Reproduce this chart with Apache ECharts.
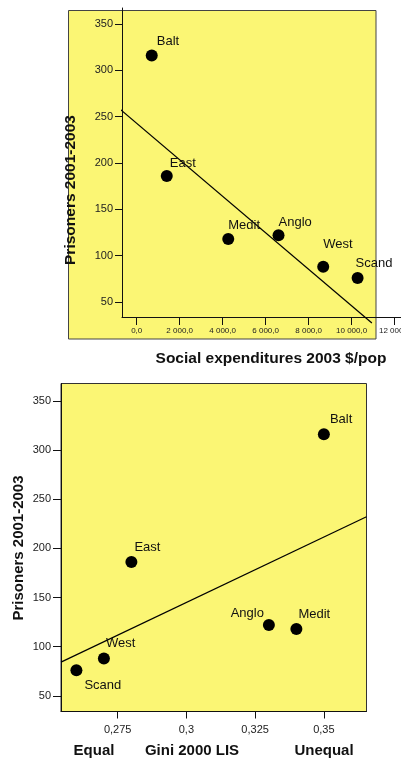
<!DOCTYPE html>
<html>
<head>
<meta charset="utf-8">
<script src="https://cdn.jsdelivr.net/npm/echarts@6/dist/echarts.min.js"></script>
<style>html,body{margin:0;padding:0;background:#fff;}#c{width:401px;height:760px;}</style>
</head>
<body>
<div id="c"></div>
<script>
// ---- data ----
const groups = ['Balt', 'East', 'Medit', 'Anglo', 'West', 'Scand'];
const prisoners = [316, 186, 118, 122, 88, 76];
const socialExp = [700, 1400, 4260, 6600, 8680, 10280];
const gini = [0.35, 0.28, 0.34, 0.33, 0.27, 0.26];
const fitSocialX = [-1056, 10944];
const fitSocialY = [263.6, 27.3];
const fitGiniX = [0.2544, 0.3655];
const fitGiniY = [84.2, 232.1];
const yTicks = [50, 100, 150, 200, 250, 300, 350];
const xTicksSocial = [0, 2000, 4000, 6000, 8000, 10000, 12000];
const xTicksGini = [0.275, 0.3, 0.325, 0.35];

// ---- label placement (style) ----
const offTop = {Balt:[5,-14], East:[3,-13], Medit:[0,-14], Anglo:[0,-13], West:[0,-22], Scand:[-2,-14]};
const offBot = {Balt:[6,-15], East:[3,-15], Medit:[2,-15], Anglo:[-5,-12], West:[2,-15], Scand:[8,15]};
const alignBot = {Anglo:'right'};

const YEL = '#FBF674';
const FONT = 'Liberation Sans, Arial, sans-serif';

function fmtSocial(v){
  const s = Math.round(v).toString();
  const t = s.replace(/\B(?=(\d{3})+(?!\d))/g, ' ');
  return t + ',0';
}
function fmtGini(v){
  return String(+v.toFixed(3)).replace('.', ',');
}

function pts(xs, offs, aligns){
  return groups.map((g,i)=>({
    value:[xs[i], prisoners[i]],
    name:g,
    label:{offset:offs[g], align:(aligns && aligns[g]) || 'left'}
  }));
}

const labelBase = {show:true, position:'inside', verticalAlign:'middle', formatter:'{b}',
  color:'#111', fontSize:13, fontFamily:FONT};

const chart = echarts.init(document.getElementById('c'), null, {renderer:'canvas'});
chart.setOption({
  animation:false,
  backgroundColor:'#fff',
  textStyle:{fontFamily:FONT},
  graphic:[
    {type:'rect', z:-10, shape:{x:68.5, y:10.5, width:307.5, height:328.5},
     style:{fill:YEL, stroke:'#444', lineWidth:1}},
    {type:'text', x:271, y:359, style:{text:'Social expenditures 2003 $/pop', font:'bold 15.5px '+FONT, fill:'#111', textAlign:'center', textVerticalAlign:'middle'}},
    {type:'text', x:71, y:190, rotation:Math.PI/2, style:{text:'Prisoners 2001-2003', font:'bold 15.5px '+FONT, fill:'#111', textAlign:'center', textVerticalAlign:'middle'}},
    {type:'text', x:19, y:548, rotation:Math.PI/2, style:{text:'Prisoners 2001-2003', font:'bold 15px '+FONT, fill:'#111', textAlign:'center', textVerticalAlign:'middle'}},
    {type:'text', x:94, y:751, style:{text:'Equal', font:'bold 15px '+FONT, fill:'#111', textAlign:'center', textVerticalAlign:'middle'}},
    {type:'text', x:192, y:751, style:{text:'Gini 2000 LIS', font:'bold 15px '+FONT, fill:'#111', textAlign:'center', textVerticalAlign:'middle'}},
    {type:'text', x:324, y:751, style:{text:'Unequal', font:'bold 15px '+FONT, fill:'#111', textAlign:'center', textVerticalAlign:'middle'}}
  ],
  grid:[
    {left:122, top:8, width:279, height:309, show:false, containLabel:false, outerBoundsMode:'none'},
    {left:61, top:383.5, width:305.5, height:328, show:true, backgroundColor:YEL, borderColor:'#333', borderWidth:1, containLabel:false, outerBoundsMode:'none'}
  ],
  xAxis:[
    {gridIndex:0, type:'value', min:-684, max:12300, splitLine:{show:false},
     axisLine:{show:true, onZero:false, lineStyle:{color:'#111', width:1}},
     axisTick:{show:true, length:8, lineStyle:{color:'#111'}, customValues:xTicksSocial},
     axisLabel:{customValues:xTicksSocial, formatter:fmtSocial, fontSize:8, color:'#222', margin:10, showMinLabel:true, showMaxLabel:true, hideOverlap:false}},
    {gridIndex:1, type:'value', min:0.2544, max:0.3655, splitLine:{show:false},
     axisLine:{show:true, onZero:false, lineStyle:{color:'#111', width:1}},
     axisTick:{show:true, length:7, lineStyle:{color:'#111'}, customValues:xTicksGini},
     axisLabel:{customValues:xTicksGini, formatter:fmtGini, fontSize:11, color:'#222', margin:13}}
  ],
  yAxis:[
    {gridIndex:0, type:'value', min:33.8, max:367.3, splitLine:{show:false},
     axisLine:{show:true, onZero:false, lineStyle:{color:'#111', width:1}},
     axisTick:{show:true, length:7, lineStyle:{color:'#111'}, customValues:yTicks},
     axisLabel:{customValues:yTicks, fontSize:11, color:'#222', margin:9}},
    {gridIndex:1, type:'value', min:34, max:367.7, splitLine:{show:false},
     axisLine:{show:true, onZero:false, lineStyle:{color:'#111', width:1}},
     axisTick:{show:true, length:8, lineStyle:{color:'#111'}, customValues:yTicks},
     axisLabel:{customValues:yTicks, fontSize:11, color:'#222', margin:10}}
  ],
  series:[
    {type:'line', xAxisIndex:0, yAxisIndex:0, clip:false, symbol:'none', silent:true,
     lineStyle:{color:'#000', width:1.2}, data:fitSocialX.map((x,i)=>[x, fitSocialY[i]]), z:3},
    {type:'scatter', xAxisIndex:0, yAxisIndex:0, symbolSize:12, itemStyle:{color:'#000', opacity:1},
     label:labelBase, data:pts(socialExp, offTop), z:4},
    {type:'line', xAxisIndex:1, yAxisIndex:1, clip:false, symbol:'none', silent:true,
     lineStyle:{color:'#000', width:1.2}, data:fitGiniX.map((x,i)=>[x, fitGiniY[i]]), z:3},
    {type:'scatter', xAxisIndex:1, yAxisIndex:1, symbolSize:12, itemStyle:{color:'#000', opacity:1},
     label:labelBase, data:pts(gini, offBot, alignBot), z:4}
  ]
});
</script>
</body>
</html>
